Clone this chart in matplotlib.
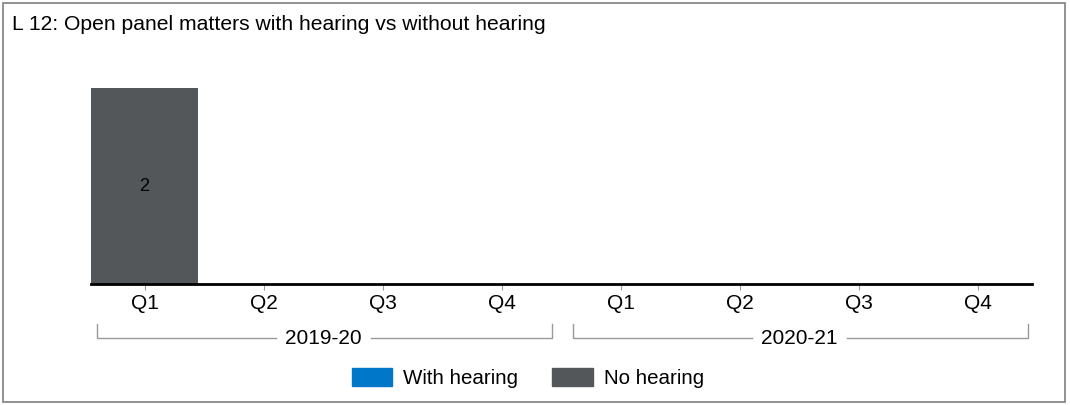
import matplotlib.pyplot as plt
from matplotlib.patches import Rectangle, Patch
import numpy as np

# Data
years = ["2019-20", "2020-21"]
quarters = ["Q1", "Q2", "Q3", "Q4", "Q1", "Q2", "Q3", "Q4"]
with_hearing = [0, 0, 0, 0, 0, 0, 0, 0]
no_hearing = [2, 0, 0, 0, 0, 0, 0, 0]

BLUE = "#0077C8"
GREY = "#54575A"

plt.rcParams['font.family'] = ['Liberation Sans', 'DejaVu Sans']

fig = plt.figure(figsize=(10.7, 4.05), dpi=100)
W, H = 1070, 405

# outer frame
fig.patches.append(Rectangle((3 / W, 3 / H), 1062 / W, 399 / H, transform=fig.transFigure,
                             fill=False, edgecolor="#7f7f7f", linewidth=1.2))
fig.text(12 / W, 1 - 24 / H, "L 12: Open panel matters with hearing vs without hearing",
         fontsize=15.2, va="center", ha="left")

# axes: baseline at y=284, x from 91 to 1032
ax = fig.add_axes([91 / W, 1 - 284 / H, (1032 - 91) / W, (284 - 40) / H])
x = np.arange(len(quarters))
ax.bar(x, with_hearing, width=0.9, color=BLUE, label="With hearing")
ax.bar(x, no_hearing, width=0.9, bottom=with_hearing, color=GREY, label="No hearing")
for i, v in enumerate(no_hearing):
    if v > 0:
        ax.text(i, with_hearing[i] + v / 2, str(v), ha="center", va="center", fontsize=13)

ax.set_xlim(-0.45, len(quarters) - 0.55)
ax.set_ylim(0, 2.49)
for s in ["top", "right", "left"]:
    ax.spines[s].set_visible(False)
ax.spines["bottom"].set_linewidth(2)
ax.set_yticks([])
ax.set_xticks(x)
ax.set_xticklabels(quarters, fontsize=15)
ax.tick_params(axis="x", length=4, color="#999999", pad=3)

# year brackets below the quarter labels
trans = ax.get_xaxis_transform()
y_br = -(338 - 284) / (284 - 40)
y_top = -(324 - 284) / (284 - 40)
for k, yr in enumerate(years):
    x0 = k * 4 - 0.4
    x1 = k * 4 + 3.42
    xm = k * 4 + 1.5
    ax.plot([x0, x0, xm - 0.4], [y_top, y_br, y_br], transform=trans, clip_on=False,
            color="#999999", linewidth=1)
    ax.plot([xm + 0.4, x1, x1], [y_br, y_br, y_top], transform=trans, clip_on=False,
            color="#999999", linewidth=1)
    ax.text(xm, y_br, yr, transform=trans, ha="center", va="center", fontsize=15)

handles = [Patch(color=BLUE, label="With hearing"), Patch(color=GREY, label="No hearing")]
fig.legend(handles=handles, loc="center", bbox_to_anchor=(0.5 - 7 / W, 1 - 378 / H), ncol=2,
           frameon=False, fontsize=14.8, handlelength=1.95, handleheight=0.95,
           columnspacing=1.66, handletextpad=0.55)

plt.savefig("out.png", dpi=100)
plt.close()
